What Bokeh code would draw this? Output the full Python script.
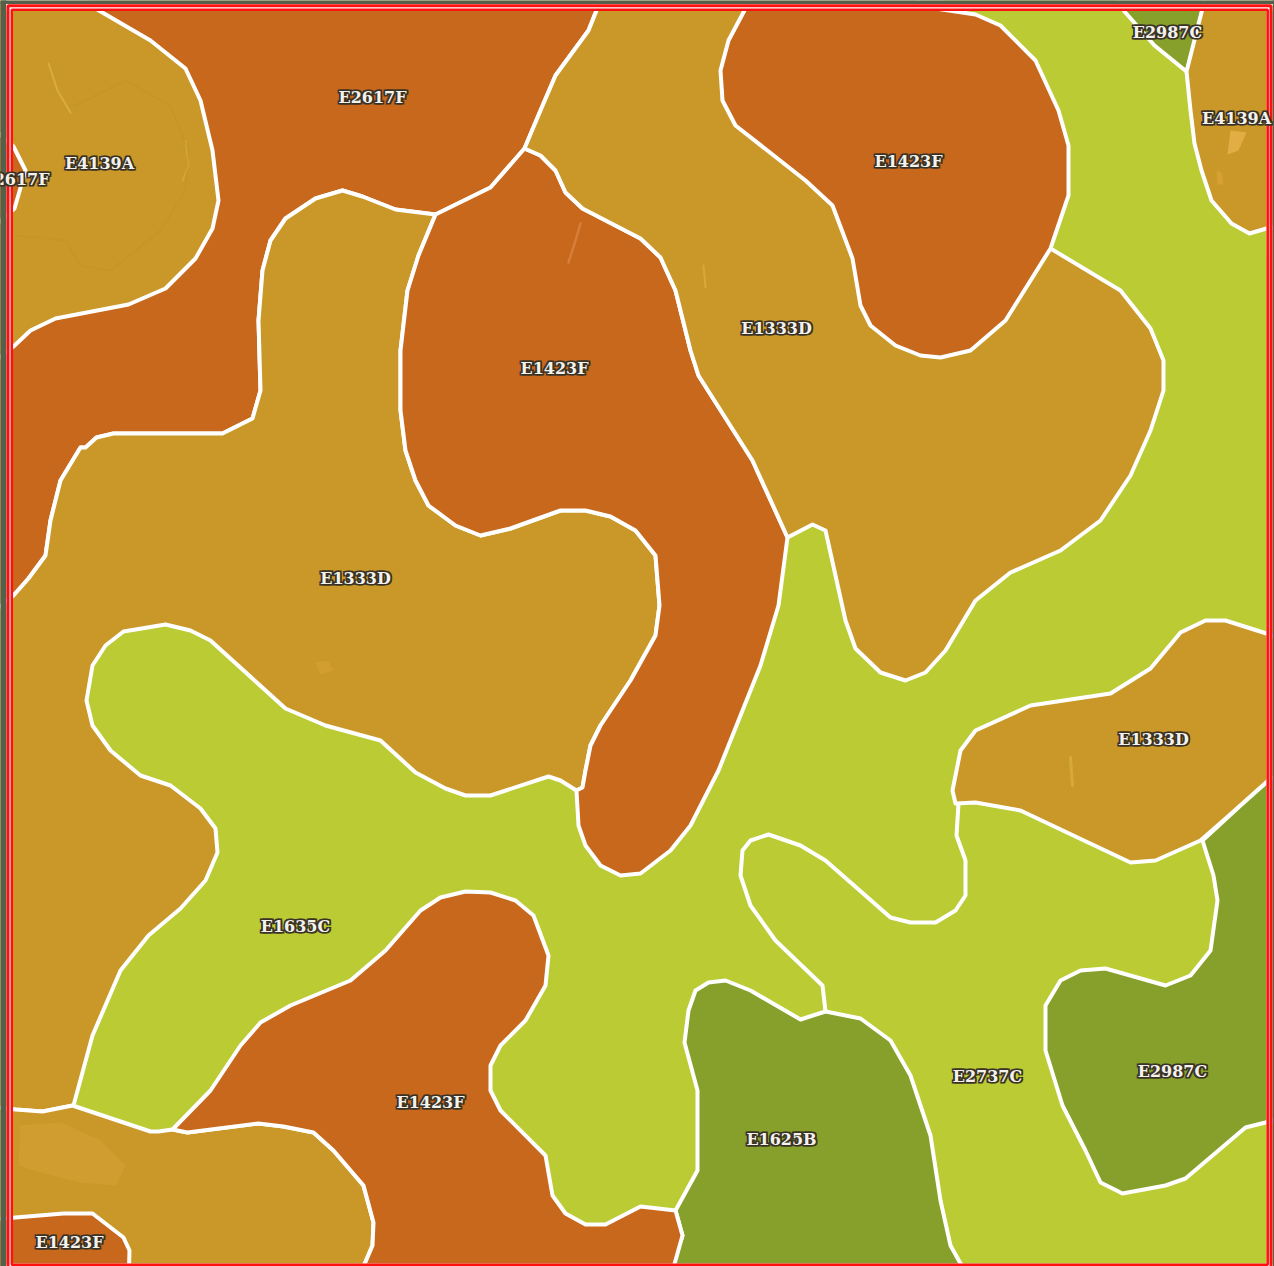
from bokeh.plotting import figure
from bokeh.embed import file_html
from bokeh.resources import INLINE
from bokeh.models import Range1d, ColumnDataSource
from bokeh.core.properties import value

W, H = 1274, 1266
ORANGE = "#C7681D"
GOLD = "#CA9829"
LIME = "#BBCB34"
GREEN = "#86A02B"

E2617F_MAIN = [(95,0),(600,0),(588,30),(555,75),(540,110),(524,148),(490,187),(435,214),(395,209),(362,196),(342,190),(315,198),(285,218),(270,240),(262,270),(258,320),(260,390),(252,418),(222,433),(113,433),(96,437),(85,447),(80,447),(60,480),(50,520),(45,555),(28,578),(13,595),(-5,610),(-5,0)]
E4139A_LEFT = [(95,8),(150,40),(185,68),(200,100),(212,150),(218,200),(212,228),(195,258),(165,288),(128,304),(55,318),(30,330),(13,346),(-5,360),(-5,0),(85,0)]
E2617F_NOTCH = [(-5,130),(13,146),(25,170),(14,208),(-5,225)]
E1333D_LEFT = [(435,214),(418,255),(407,290),(400,350),(400,410),(405,450),(415,480),(428,505),(455,525),(480,535),(510,528),(560,510),(585,510),(610,516),(635,530),(655,555),(659,605),(655,635),(630,680),(600,725),(590,745),(585,770),(582,787),(576,790),(560,780),(548,776),(490,795),(465,795),(445,788),(415,772),(380,740),(325,725),(285,708),(210,640),(190,630),(165,624),(123,631),(105,645),(92,665),(86,700),(92,725),(110,750),(140,775),(170,785),(200,808),(215,828),(217,852),(205,880),(180,908),(148,935),(120,970),(92,1035),(73,1105),(42,1111),(15,1109),(-5,1107),(-5,610),(13,595),(28,578),(45,555),(50,520),(60,480),(80,447),(85,447),(96,437),(113,433),(222,433),(252,418),(260,390),(258,320),(262,270),(270,240),(285,218),(315,198),(342,190),(362,196),(395,209)]
E1423F_CENTRE = [(524,148),(540,155),(555,170),(565,192),(582,208),(640,238),(660,257),(675,290),(690,350),(698,375),(752,460),(787,537),(778,605),(760,665),(718,770),(690,825),(670,850),(640,873),(620,875),(600,865),(585,845),(578,825),(576,790),(582,787),(585,770),(590,745),(600,725),(630,680),(655,635),(659,605),(655,555),(635,530),(610,516),(585,510),(560,510),(510,528),(480,535),(455,525),(428,505),(415,480),(405,450),(400,410),(400,350),(407,290),(418,255),(435,214),(490,187)]
E1333D_UPPER = [(600,0),(940,0),(1050,248),(1120,290),(1150,328),(1163,360),(1163,390),(1150,430),(1130,475),(1100,520),(1060,550),(1010,572),(975,600),(945,650),(925,672),(905,680),(880,672),(855,648),(845,620),(825,530),(812,524),(787,537),(752,460),(698,375),(690,350),(675,290),(660,257),(640,238),(582,208),(565,192),(555,170),(540,155),(524,148),(540,110),(555,75),(588,30)]
E1423F_UPPER = [(745,8),(728,40),(720,70),(722,100),(735,125),(805,180),(832,205),(852,258),(860,305),(870,325),(895,345),(920,355),(940,357),(970,350),(1005,320),(1050,248),(1068,195),(1068,145),(1058,110),(1035,60),(1000,25),(975,14),(935,8),(915,0),(750,0)]
E2987C_TOP = [(1117,0),(1124,11),(1154,45),(1186,71),(1194,48),(1204,0)]
E4139A_RIGHT = [(1204,0),(1186,71),(1190,110),(1194,143),(1201,170),(1211,200),(1231,223),(1249,233),(1266,228),(1280,226),(1280,0)]
E1333D_RIGHT = [(955,803),(952,790),(960,750),(975,730),(1030,705),(1110,693),(1150,668),(1180,632),(1205,620),(1225,620),(1266,633),(1285,640),(1285,770),(1268,780),(1240,805),(1200,840),(1155,860),(1130,862),(1020,810),(975,802)]
E2987C_RIGHT = [(1202,840),(1240,805),(1268,780),(1285,770),(1285,1116),(1265,1122),(1245,1127),(1185,1178),(1165,1185),(1122,1193),(1100,1182),(1085,1150),(1062,1105),(1045,1050),(1045,1005),(1060,980),(1080,970),(1105,968),(1165,985),(1190,975),(1210,950),(1217,900),(1213,875)]
E1625B = [(675,1210),(697,1170),(697,1090),(684,1042),(688,1010),(695,990),(708,982),(725,980),(750,990),(800,1019),(825,1011),(860,1018),(890,1040),(910,1075),(930,1135),(940,1200),(950,1245),(960,1263),(975,1285),(665,1285),(682,1235)]
E1333D_BOTTOM = [(-5,1107),(15,1109),(42,1111),(72,1105),(150,1131),(158,1131),(172,1129),(187,1132),(258,1123),(283,1126),(313,1132),(333,1150),(363,1185),(373,1222),(372,1245),(355,1285),(-5,1285)]
E1423F_LOWER = [(172,1129),(210,1090),(240,1045),(260,1022),(290,1005),(350,980),(385,950),(420,910),(440,897),(465,891),(490,892),(515,900),(533,915),(548,955),(545,985),(525,1020),(500,1045),(490,1065),(490,1090),(500,1110),(545,1155),(552,1195),(565,1213),(585,1224),(605,1224),(640,1206),(675,1210),(682,1235),(668,1285),(355,1285),(372,1245),(373,1222),(363,1185),(333,1150),(313,1132),(283,1126),(258,1123),(187,1132)]
E1423F_CORNER = [(-5,1219),(15,1217),(63,1213),(92,1213),(123,1237),(129,1250),(128,1285),(-5,1285)]
E1635C_DIVIDER = [(825,1011),(822,985),(775,940),(750,905),(740,875),(742,850),(750,840),(768,834),(800,845),(825,860),(890,917),(910,922),(935,922),(955,910),(965,895),(965,860),(956,835),(958,803)]

REGIONS = [
    (E2617F_MAIN, ORANGE), (E4139A_LEFT, GOLD), (E2617F_NOTCH, ORANGE),
    (E1333D_LEFT, GOLD), (E1423F_CENTRE, ORANGE), (E1333D_UPPER, GOLD),
    (E1423F_UPPER, ORANGE), (E2987C_TOP, GREEN), (E4139A_RIGHT, GOLD),
    (E1333D_RIGHT, GOLD), (E2987C_RIGHT, GREEN), (E1625B, GREEN),
    (E1333D_BOTTOM, GOLD), (E1423F_LOWER, ORANGE), (E1423F_CORNER, ORANGE),
]

# Faint marks of the photo that shows through the tints
SOIL_PATCH_A = [(20,1125),(60,1122),(100,1140),(125,1165),(115,1185),(80,1182),(40,1172),(18,1165)]
SOIL_PATCH_C = [(1230,130),(1246,132),(1238,150),(1227,154)]
SOIL_PATCH_D = [(1216,170),(1221,172),(1223,184),(1217,184)]
SOIL_PATCH_E = [(315,662),(328,660),(333,670),(320,674)]
SOIL_PATCHES = [(SOIL_PATCH_A, "#E8B54A", 0.22),
                (SOIL_PATCH_C, "#EDB651", 0.7), (SOIL_PATCH_D, "#E3A83F", 0.5),
                (SOIL_PATCH_E, "#E0AC3F", 0.3)]
STREAK_A = [(48,63),(57,90),(70,112)]
STREAK_B = [(580,223),(575,240),(568,262)]
STREAK_C = [(703,265),(705,287)]
STREAK_D = [(1070,757),(1072,785)]
STREAK_E = [(185,140),(188,165),(182,180)]
ARC_A = [(75,105),(125,80),(170,105),(188,150),(185,190),(160,230),(110,270),(80,265),(65,240),(15,235)]
STREAKS = [(STREAK_A, "#E3B94D", 2, 0.6), (STREAK_B, "#E58E4B", 2.5, 0.6),
           (STREAK_C, "#E3B94D", 2, 0.5), (STREAK_D, "#E3B94D", 3, 0.5),
           (STREAK_E, "#E3B94D", 2, 0.4), (ARC_A, "#B08420", 2, 0.15)]

LABEL_TEXT = ["E2617F","E4139A","E2617F","E1423F","E1333D","E1423F","E2987C","E4139A","E1333D","E1333D","E1635C","E2737C","E2987C","E1423F","E1625B","E1423F"]
LABEL_X = [372,99,15,908,776,554,1167,1236,355,1153,295,987,1172,430,781,69]
LABEL_Y = [97,163,179,161,328,368,32,118,578,739,926,1076,1071,1102,1139,1242]

p = figure(width=W, height=H, output_backend="svg", toolbar_location=None,
           x_range=Range1d(0, W), y_range=Range1d(H, 0),
           min_border=0, margin=(0, 0, 0, 0))
p.xaxis.visible = False
p.yaxis.visible = False
p.grid.visible = False
p.outline_line_color = None
p.background_fill_color = LIME
p.border_fill_color = None

def xs(pts):
    return [a for a, _ in pts]

def ys(pts):
    return [b for _, b in pts]

for pts, col in REGIONS:
    p.patch(xs(pts), ys(pts), fill_color=col, line_color="white", line_width=4, line_join="round")
p.line(xs(E1635C_DIVIDER), ys(E1635C_DIVIDER), line_color="white", line_width=4, line_join="round")

for pts, col, alpha in SOIL_PATCHES:
    p.patch(xs(pts), ys(pts), fill_color=col, fill_alpha=alpha, line_color=None)
for pts, col, w, alpha in STREAKS:
    p.line(xs(pts), ys(pts), line_color=col, line_width=w, line_alpha=alpha, line_cap="round")

# surroundings of the tile, and its double red frame
DARK = "#55604A"
L, T, R, B = 6, 3.5, 1272, 1268
IL, IT, IR, IB = 12.5, 10.5, 1266, 1263
p.quad(left=[-5, -5, R, -5], right=[L, W+5, W+5, W+5], top=[-5, -5, -5, B], bottom=[H+5, T, H+5, H+5],
       fill_color=DARK, line_color=None)
p.quad(left=[L, L, IR, L], right=[IL, R, R, R], top=[T, T, T, IB], bottom=[B, IT, B, B],
       fill_color="white", line_color=None)
p.quad(left=[L+1.5], right=[R-1.5], top=[T+1.7], bottom=[B+3], fill_color=None, line_color="#FF1010", line_width=3)
p.quad(left=[IL-1.2], right=[IR+1.2], top=[IT-1.2], bottom=[IB+1.2], fill_color=None, line_color="#FF1010", line_width=2.5)

src = ColumnDataSource(dict(x=LABEL_X, y=LABEL_Y, t=LABEL_TEXT))
for dx, dy in [(1.2, 1.2), (-1.2, -1.2), (1.2, -1.2), (-1.2, 1.2)]:
    p.text(x="x", y="y", text="t", source=src, text_align="center", text_baseline="middle",
           x_offset=dx, y_offset=dy,
           text_font=value("DejaVu Serif"), text_font_style="bold", text_font_size="16px",
           text_color="#3A3225", text_outline_color="#3A3225")
p.text(x="x", y="y", text="t", source=src, text_align="center", text_baseline="middle",
       text_font=value("DejaVu Serif"), text_font_style="bold", text_font_size="16px",
       text_color="#F4F2EC")

open("out.html", "w").write(file_html(p, INLINE))
